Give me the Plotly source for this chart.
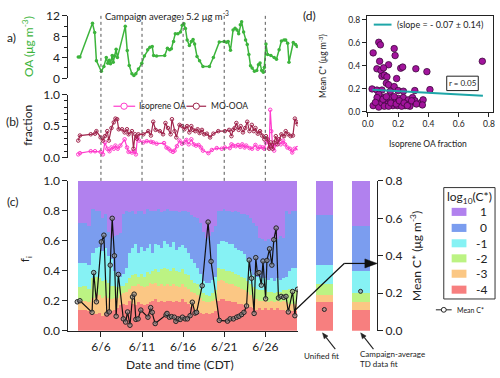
import plotly.graph_objects as go
from datetime import datetime, timedelta

# ---------------- data ----------------
# times are day-of-June (6.0 = 6/6 00:00 CDT)
oa_day = [3.24, 3.44, 4.97, 5.24, 5.45, 6.05, 6.36, 6.65, 6.84, 7.01, 7.16, 7.37, 7.49, 7.64, 7.85, 8.00, 8.96, 9.20,
          9.44, 9.77, 10.01, 10.25, 10.56, 10.97, 11.28, 11.69, 11.96, 12.24, 12.41, 12.77, 13.76, 14.09, 14.36, 14.57,
          14.84, 15.05, 15.36, 15.68, 15.89, 16.10, 16.28, 16.49, 16.76, 17.00, 17.21, 17.40, 17.69, 18.00, 18.41,
          19.20, 19.68, 20.40, 21.00, 21.28, 21.48, 21.76, 22.08, 22.32, 22.56, 22.76, 22.96, 23.12, 23.36, 23.60,
          23.80, 24.00, 24.20, 24.40, 24.68, 24.96, 25.16, 25.36, 25.56, 25.76, 25.88, 26.08, 26.28, 26.68, 27.08,
          27.36, 27.68, 27.96, 28.28, 28.48, 28.72, 28.88, 29.40, 29.68, 29.88]
oa_val = [4.1, 4.1, 10.6, 8.8, 3.4, 1.35, 2.3, 4.0, 2.9, 3.5, 2.8, 4.4, 3.1, 4.3, 5.6, 4.0, 10.0, 5.35, 2.5, 0.9,
          0.55, 0.9, 1.8, 2.9, 4.3, 5.5, 6.0, 6.15, 4.4, 4.3, 4.4, 5.8, 5.5, 5.7, 7.1, 8.6, 8.6, 8.9, 10.2, 10.5,
          9.6, 7.4, 6.3, 7.1, 7.5, 6.6, 4.2, 3.4, 2.3, 2.3, 4.0, 7.0, 7.1, 6.95, 7.1, 5.4, 9.3, 9.65, 9.3, 8.6,
          10.3, 10.9, 8.9, 7.4, 6.5, 4.6, 2.45, 2.0, 1.35, 1.5, 2.6, 2.95, 1.5, 1.2, 2.1, 6.6, 4.6, 4.4, 4.0, 3.7,
          5.5, 7.2, 7.4, 7.4, 6.75, 3.1, 6.9, 6.5, 6.15]

iso_day = [3.24, 3.44, 4.76, 5.28, 5.96, 6.24, 6.48, 6.77, 7.04, 7.28, 7.56, 7.76, 8.04, 8.36, 8.88, 9.17, 9.36, 9.77,
           10.04, 10.25, 10.44, 10.64, 11.16, 11.57, 12.08, 12.36, 12.77, 13.68, 13.97, 14.24, 14.48, 14.76, 14.96,
           15.24, 15.56, 15.86, 16.16, 16.40, 16.68, 17.00, 17.28, 17.57, 17.88, 18.17, 18.41, 19.08, 19.49, 20.09,
           20.69, 21.08, 21.68, 21.88, 22.08, 22.40, 22.68, 22.96, 23.20, 23.48, 23.68, 24.08, 24.40, 24.80, 25.08,
           25.36, 25.68, 25.88, 26.08, 26.28, 26.48, 26.60, 26.72, 26.88, 27.08, 27.28, 27.60, 27.88, 28.16, 28.40,
           28.68, 29.00, 29.28, 29.56, 29.88]
iso_frac = [0.05, 0.07, 0.10, 0.10, 0.09, 0.05, 0.24, 0.14, 0.10, 0.16, 0.14, 0.19, 0.14, 0.19, 0.29, 0.16, 0.09, 0.08,
            0.10, 0.05, 0.32, 0.27, 0.24, 0.26, 0.25, 0.24, 0.22, 0.23, 0.16, 0.14, 0.11, 0.09, 0.11, 0.18, 0.27, 0.22,
            0.24, 0.28, 0.21, 0.29, 0.21, 0.19, 0.20, 0.16, 0.11, 0.07, 0.12, 0.15, 0.14, 0.16, 0.15, 0.21, 0.19, 0.18,
            0.20, 0.17, 0.21, 0.16, 0.19, 0.15, 0.14, 0.20, 0.14, 0.17, 0.16, 0.14, 0.24, 0.27, 0.16, 0.76, 0.42, 0.19,
            0.11, 0.21, 0.29, 0.21, 0.27, 0.21, 0.16, 0.14, 0.08, 0.14, 0.15]

moo_day = [3.24, 3.44, 4.76, 5.28, 5.45, 5.96, 6.24, 6.48, 6.77, 6.96, 7.28, 7.56, 7.76, 7.97, 8.16, 8.57, 8.88, 9.17,
           9.36, 9.77, 9.96, 10.16, 10.37, 10.56, 11.16, 11.76, 12.08, 12.36, 12.65, 13.16, 13.56, 13.85, 14.16, 14.48,
           14.64, 14.96, 15.17, 15.56, 15.88, 16.16, 16.49, 16.76, 17.00, 17.21, 17.48, 17.76, 18.00, 18.29, 18.56,
           18.89, 19.28, 19.68, 20.28, 21.08, 21.60, 21.88, 22.08, 22.28, 22.48, 22.76, 23.00, 23.28, 23.56, 23.80,
           24.08, 24.36, 24.60, 24.80, 25.08, 25.36, 25.60, 25.88, 26.08, 26.28, 26.48, 26.68, 26.88, 27.08, 27.28,
           27.48, 27.68, 27.96, 28.28, 28.48, 28.80, 29.08, 29.36, 29.60, 29.76, 29.96]
moo_frac = [0.27, 0.35, 0.37, 0.38, 0.42, 0.32, 0.27, 0.34, 0.42, 0.27, 0.47, 0.56, 0.62, 0.61, 0.45, 0.45, 0.40, 0.45,
            0.37, 0.42, 0.14, 0.37, 0.30, 0.37, 0.37, 0.42, 0.35, 0.57, 0.44, 0.42, 0.37, 0.55, 0.47, 0.37, 0.61, 0.42,
            0.32, 0.52, 0.50, 0.45, 0.50, 0.40, 0.50, 0.44, 0.42, 0.45, 0.39, 0.44, 0.37, 0.38, 0.32, 0.38, 0.42, 0.42,
            0.44, 0.34, 0.44, 0.47, 0.55, 0.44, 0.50, 0.40, 0.47, 0.57, 0.42, 0.52, 0.42, 0.47, 0.38, 0.42, 0.35, 0.29,
            0.34, 0.29, 0.14, 0.24, 0.14, 0.24, 0.34, 0.21, 0.29, 0.37, 0.34, 0.42, 0.37, 0.34, 0.35, 0.62, 0.57, 0.53]

cstar_day = [3.12, 3.44, 4.92, 5.12, 5.45, 6.05, 6.36, 6.72, 7.01, 7.13, 7.37, 7.64, 7.85, 8.12, 8.72, 9.00, 9.24,
             9.53, 9.84, 10.04, 10.25, 10.52, 10.85, 11.72, 12.05, 12.24, 12.60, 13.92, 14.04, 14.33, 14.60, 14.93,
             15.12, 15.41, 15.65, 15.92, 16.25, 16.52, 16.85, 17.12, 17.45, 17.64, 18.32, 19.04, 19.40, 20.40, 21.40,
             21.72, 22.12, 22.52, 22.80, 23.12, 23.40, 23.72, 24.04, 24.32, 24.64, 24.84, 25.04, 25.24, 25.52, 25.72,
             26.04, 26.20, 26.52, 26.80, 27.04, 27.32, 27.60, 27.92, 28.24, 28.52, 28.80, 29.32, 29.60, 29.92]
cstar_val = [0.154, 0.16, 0.098, 0.31, 0.154, 0.474, 0.51, 0.089, 0.10, 0.35, 0.60, 0.40, 0.077, 0.30, 0.063, 0.046,
             0.10, 0.029, 0.18, 0.195, 0.06, 0.063, 0.11, 0.072, 0.123, 0.098, 0.038, 0.084, 0.092, 0.072, 0.075,
             0.072, 0.05, 0.063, 0.06, 0.072, 0.063, 0.063, 0.08, 0.152, 0.094, 0.098, 0.24, 0.58, 0.37, 0.055, 0.051,
             0.063, 0.063, 0.072, 0.077, 0.086, 0.098, 0.132, 0.377, 0.28, 0.092, 0.39, 0.306, 0.31, 0.243, 0.372,
             0.17, 0.375, 0.437, 0.35, 0.486, 0.548, 0.175, 0.183, 0.178, 0.183, 0.10, 0.209, 0.08, 0.221]

# volatility-bin fractions (stacked bars), one bar per averaging period starting at bar_start
bar_start = [3.20, 3.80, 4.40, 4.88, 5.36, 5.72, 6.08, 6.44, 6.80, 7.16, 7.52, 7.88, 8.24, 8.60, 8.96, 9.32, 9.68,
             10.04, 10.40, 10.76, 11.12, 11.48, 11.84, 12.20, 12.56, 12.92, 13.28, 13.64, 14.00, 14.36, 14.72, 15.08,
             15.44, 15.80, 16.16, 16.52, 16.88, 17.24, 17.60, 17.96, 18.32, 18.68, 19.04, 19.40, 19.76, 20.12, 20.48,
             20.84, 21.20, 21.56, 21.92, 22.28, 22.64, 23.00, 23.36, 23.72, 24.08, 24.44, 24.80, 25.16, 25.52, 25.88,
             26.24, 26.60, 26.96, 27.32, 27.68, 28.04, 28.40, 28.76, 29.12, 29.48]
bar_end = 29.96
f_m4 = [.14, .14, .13, .11, .11, .12, .10, .12, .14, .13, .14, .15, .17, .18, .17, .20, .18, .17, .19, .18,
        .17, .18, .19, .20, .21, .19, .20, .19, .20, .20, .19, .20, .19, .21, .19, .18, .16, .14, .13, .12,
        .11, .12, .11, .12, .13, .20, .21, .21, .20, .20, .19, .19, .18, .18, .17, .16, .16, .15, .14, .15,
        .14, .15, .14, .15, .14, .15, .14, .14, .13, .13, .13, .13]
f_m3 = [.06, .06, .06, .11, .14, .12, .12, .11, .08, .08, .08, .07, .07, .07, .09, .08, .12, .13, .12, .12,
        .12, .12, .13, .11, .11, .11, .11, .11, .11, .10, .12, .10, .10, .10, .10, .10, .10, .11, .11, .10,
        .09, .07, .08, .08, .08, .13, .13, .12, .12, .11, .12, .11, .11, .10, .10, .10, .08, .07, .07, .05,
        .06, .06, .05, .05, .05, .05, .05, .06, .06, .05, .05, .05]
f_m2 = [.09, .10, .09, .13, .11, .11, .11, .11, .10, .09, .08, .07, .06, .05, .06, .07, .07, .08, .05, .08,
        .07, .09, .06, .09, .09, .09, .10, .12, .10, .10, .11, .10, .10, .10, .09, .09, .08, .07, .07, .06,
        .05, .05, .04, .05, .06, .09, .07, .08, .08, .09, .08, .08, .08, .08, .08, .07, .07, .07, .07, .07,
        .07, .06, .07, .06, .06, .06, .07, .07, .08, .10, .10, .09]
f_m1 = [.16, .15, .16, .17, .19, .21, .20, .21, .18, .18, .10, .08, .06, .08, .10, .17, .18, .20, .16, .18,
        .17, .16, .20, .12, .17, .18, .14, .18, .17, .16, .17, .14, .17, .16, .17, .15, .14, .13, .11, .10,
        .08, .08, .09, .09, .09, .16, .19, .19, .19, .18, .19, .17, .17, .17, .16, .15, .09, .08, .08, .09,
        .08, .08, .08, .09, .08, .09, .08, .08, .09, .12, .14, .15]
f_0 = [.27, .27, .26, .29, .25, .24, .22, .23, .16, .14, .23, .27, .29, .40, .38, .27, .25, .20, .28, .24,
       .25, .26, .22, .28, .22, .24, .24, .20, .23, .24, .21, .26, .23, .23, .25, .27, .29, .31, .33, .34,
       .33, .30, .31, .32, .34, .22, .20, .21, .21, .22, .21, .25, .25, .25, .27, .29, .35, .35, .34, .26,
       .26, .25, .27, .25, .29, .26, .29, .27, .44, .38, .38, .38]
f_p1 = [.28, .28, .30, .19, .20, .20, .25, .22, .34, .38, .37, .36, .35, .22, .20, .21, .20, .22, .20, .20,
        .22, .19, .20, .20, .20, .19, .21, .20, .19, .20, .20, .20, .21, .20, .20, .21, .23, .24, .25, .28,
        .34, .38, .37, .34, .30, .20, .20, .19, .20, .20, .21, .20, .21, .22, .22, .23, .25, .28, .30, .38,
        .39, .40, .39, .40, .38, .39, .37, .38, .20, .22, .20, .20]

bin_labels = ["-4", "-3", "-2", "-1", "0", "1"]
bin_colors = ["#f77f7f", "#fbc784", "#bcf383", "#86f2f4", "#7b9def", "#b181ee"]

side_labels = ["Unified fit", "Campaign-average<br>TD data fit"]
side_m4 = [0.19, 0.14]
side_m3 = [0.05, 0.05]
side_m2 = [0.07, 0.06]
side_m1 = [0.13, 0.15]
side_0 = [0.33, 0.30]
side_p1 = [0.23, 0.30]
side_cstar = [0.113, 0.21]

sc_iso = [0.072, 0.083, 0.035, 0.174, 0.18, 0.078, 0.137, 0.217, 0.23, 0.317, 0.39, 0.06, 0.087, 0.104, 0.093,
          0.109, 0.126, 0.19, 0.122, 0.137, 0.174, 0.028, 0.06, 0.093, 0.148, 0.20, 0.235, 0.31, 0.41, 0.756,
          0.035, 0.072, 0.083, 0.104, 0.115, 0.13, 0.148, 0.158, 0.165, 0.18, 0.191, 0.202, 0.213, 0.223, 0.234,
          0.246, 0.256, 0.267, 0.278, 0.295, 0.311, 0.354, 0.365, 0.072, 0.061, 0.093, 0.109, 0.137, 0.174, 0.195,
          0.223, 0.278, 0.36, 0.05, 0.10, 0.122, 0.152, 0.187, 0.208, 0.239, 0.261, 0.289, 0.321]
sc_cstar = [0.605, 0.583, 0.513, 0.55, 0.49, 0.44, 0.41, 0.38, 0.39, 0.375, 0.35, 0.375, 0.36, 0.383, 0.31, 0.32,
            0.305, 0.29, 0.25, 0.236, 0.22, 0.20, 0.19, 0.19, 0.18, 0.186, 0.18, 0.186, 0.194, 0.44, 0.055, 0.042,
            0.111, 0.125, 0.088, 0.069, 0.105, 0.125, 0.055, 0.083, 0.097, 0.117, 0.069, 0.088, 0.125, 0.055, 0.083,
            0.105, 0.069, 0.125, 0.097, 0.083, 0.105, 0.153, 0.125, 0.078, 0.05, 0.05, 0.133, 0.055, 0.05, 0.05,
            0.061, 0.083, 0.11, 0.133, 0.078, 0.069, 0.097, 0.078, 0.055, 0.097, 0.069]
fit_slope = -0.07
fit_intercept = 0.195
fit_x = [0.03, 0.76]

date_ticks = [6, 11, 16, 21, 26]
date_ticktext = ["6/6", "6/11", "6/16", "6/21", "6/26"]

# ---------------- helpers ----------------
W, H = 500, 378
FONT = "Lato"


def px(x):
    return x / W


def py(y):
    return 1 - y / H


base = datetime(2013, 6, 1)


def dt(d):
    return base + timedelta(days=d - 1)


x_range = [dt(2.04), dt(29.96)]
GREEN = "#3cb43c"
PINK = "#ff3ccc"
MAROON = "#a0244c"

fig = go.Figure()

# panel a
fig.add_trace(go.Scatter(x=[dt(d) for d in oa_day], y=oa_val, mode="lines+markers",
                         line=dict(color=GREEN, width=1.5), marker=dict(size=3.5, color=GREEN),
                         xaxis="x", yaxis="y", showlegend=False))
# panel b
fig.add_trace(go.Scatter(x=[dt(d) for d in iso_day], y=iso_frac, mode="lines+markers",
                         line=dict(color=PINK, width=1.2), marker=dict(size=3.5, color=PINK, symbol="circle-open"),
                         xaxis="x2", yaxis="y2", showlegend=False))
fig.add_trace(go.Scatter(x=[dt(d) for d in moo_day], y=moo_frac, mode="lines+markers",
                         line=dict(color=MAROON, width=1.2), marker=dict(size=3.5, color=MAROON, symbol="circle-open"),
                         xaxis="x2", yaxis="y2", showlegend=False))

# panel c stacked bars
widths = []
centers = []
for i, s in enumerate(bar_start):
    e = bar_start[i + 1] if i + 1 < len(bar_start) else bar_end
    widths.append((e - s) * 86400000)
    centers.append(dt(s + (e - s) / 2))
for vals, col in zip([f_m4, f_m3, f_m2, f_m1, f_0, f_p1], bin_colors):
    fig.add_trace(go.Bar(x=centers, y=vals, width=widths, marker=dict(color=col, line=dict(width=0)),
                         textposition="none", hoverinfo="skip",
                         xaxis="x3", yaxis="y3", showlegend=False))
fig.add_trace(go.Scatter(x=[dt(d) for d in cstar_day], y=cstar_val, mode="lines+markers",
                         line=dict(color="#111111", width=1.2),
                         marker=dict(size=4.5, color="rgba(150,150,150,0.6)", line=dict(color="#222222", width=1)),
                         xaxis="x3", yaxis="y4", showlegend=False))

# side bars
for vals, col in zip([side_m4, side_m3, side_m2, side_m1, side_0, side_p1], bin_colors):
    fig.add_trace(go.Bar(x=[0, 1], y=vals, width=0.486, marker=dict(color=col, line=dict(width=0)),
                         textposition="none", hoverinfo="skip",
                         xaxis="x4", yaxis="y5", showlegend=False))
fig.add_trace(go.Scatter(x=[0, 1], y=side_cstar, mode="markers",
                         marker=dict(size=4, color="rgba(150,150,150,0.6)", line=dict(color="#222222", width=1)),
                         xaxis="x4", yaxis="y6", showlegend=False))

# panel d
fig.add_trace(go.Scatter(x=sc_iso, y=sc_cstar, mode="markers",
                         marker=dict(size=6.5, color="#a2149c", line=dict(color="#3e0a3c", width=0.8)),
                         xaxis="x5", yaxis="y7", showlegend=False))
fig.add_trace(go.Scatter(x=fit_x, y=[fit_intercept + fit_slope * v for v in fit_x], mode="lines",
                         line=dict(color="#1ea6a8", width=2), xaxis="x5", yaxis="y7", showlegend=False))

tickfont = dict(family=FONT, size=12, color="#222")
common_y = dict(showline=True, linecolor="#222", linewidth=1, ticks="outside", ticklen=5, tickcolor="#222",
                tickfont=tickfont, showgrid=False, zeroline=False)
small_font = dict(family=FONT, size=8.5, color="#222")

fig.update_layout(
    width=W, height=H, margin=dict(l=0, r=0, t=0, b=0),
    paper_bgcolor="white", plot_bgcolor="white", barmode="stack", bargap=0,
    font=dict(family=FONT, color="#222", size=12),
    xaxis=dict(domain=[px(64.3), px(297)], range=x_range, type="date", visible=False, anchor="y"),
    yaxis=dict(domain=[py(73.3), py(8.3)], range=[0, 12], tickmode="array", tickvals=[0, 4, 8, 12],
               ticktext=["0", "4", "8", "12"], anchor="x",
               minor=dict(dtick=2, ticklen=3, ticks="outside", tickcolor="#222"), **common_y),
    xaxis2=dict(domain=[px(64.3), px(297)], range=x_range, type="date", visible=False, anchor="y2"),
    yaxis2=dict(domain=[py(155.7), py(90.3)], range=[0, 1], tickmode="array", tickvals=[0, 0.5, 1],
                ticktext=["0.0", "0.5", "1.0"], anchor="x2",
                minor=dict(dtick=0.1, ticklen=3, ticks="outside", tickcolor="#222"), **common_y),
    xaxis3=dict(domain=[px(64.3), px(297)], range=x_range, type="date", anchor="y3", tickmode="array",
                tickvals=[dt(d) for d in date_ticks], ticktext=date_ticktext,
                showline=True, linecolor="#222", ticks="outside", ticklen=5, tickcolor="#222",
                tickfont=tickfont, showgrid=False, zeroline=False),
    yaxis3=dict(domain=[py(336), py(180)], range=[0, 1], dtick=0.2, tickformat=".1f", anchor="x3", **common_y),
    yaxis4=dict(domain=[py(336), py(180)], range=[0, 0.8], overlaying="y3", anchor="x3", visible=False),
    xaxis4=dict(domain=[px(300), px(377.5)], range=[-0.649, 1.459], visible=False, anchor="y5"),
    yaxis5=dict(domain=[py(336), py(180)], range=[0, 1], visible=False, anchor="x4"),
    yaxis6=dict(domain=[py(336), py(180)], range=[0, 0.8], dtick=0.2, tickformat=".1f", overlaying="y5",
                anchor="x4", side="right", **common_y),
    xaxis5=dict(domain=[px(367), px(495)], range=[-0.0065, 0.827], anchor="y7", dtick=0.2, tickformat=".1f",
                showline=True, mirror=True, linecolor="#222", ticks="outside", ticklen=4, tickcolor="#222",
                tickfont=small_font, showgrid=False, zeroline=False),
    yaxis7=dict(domain=[py(108.5), py(8)], range=[-0.002, 0.836], anchor="x5", dtick=0.2, tickformat=".1f",
                showline=True, mirror=True, linecolor="#222", ticks="outside", ticklen=4, tickcolor="#222",
                tickfont=small_font, showgrid=False, zeroline=False),
)

shapes = []
for d in date_ticks:
    shapes.append(dict(type="line", xref="x3", yref="paper", x0=dt(d), x1=dt(d), y0=py(180), y1=py(5),
                       line=dict(color="#555", width=1, dash="dot")))


def pline(x0, y0, x1, y1, color="#111", width=1.2):
    shapes.append(dict(type="line", xref="paper", yref="paper", x0=px(x0), y0=py(y0), x1=px(x1), y1=py(y1),
                       line=dict(color=color, width=width)))


def ptri(pts, color="#111"):
    path = "M " + " L ".join(f"{px(a):.5f},{py(b):.5f}" for a, b in pts) + " Z"
    shapes.append(dict(type="path", xref="paper", yref="paper", path=path, fillcolor=color,
                       line=dict(color=color, width=0.5)))


# connector from time series to right axis with arrowhead
pline(295, 314, 344, 266)
pline(344, 266, 367, 266)
ptri([(377.5, 266), (365, 261.3), (365, 270.7)])
# arrows pointing at the side bars
for hx, hy in [(322, 338.3), (360.7, 338.3)]:
    ux, uy = 0.607, 0.794
    bx, by = hx + 6 * ux, hy + 6 * uy
    pline(bx, by, hx + 13, hy + 17, color="#222", width=1.1)
    ptri([(hx, hy), (bx - 2.4 * uy, by + 2.4 * ux), (bx + 2.4 * uy, by - 2.4 * ux)], color="#222")

# log10 legend box
shapes.append(dict(type="rect", xref="paper", yref="paper", x0=px(445), x1=px(497), y0=py(303), y1=py(187),
                   line=dict(color="#333", width=1), fillcolor="white"))
leg_y = [212.3, 229, 245, 260.7, 276.7, 293.3]
annotations = []
for lab, col, yy in zip(reversed(bin_labels), reversed(bin_colors), leg_y):
    shapes.append(dict(type="rect", xref="paper", yref="paper", x0=px(453), x1=px(468), y0=py(yy + 4.2),
                       y1=py(yy - 4.2), line=dict(width=0), fillcolor=col))
    annotations.append(dict(x=px(491), y=py(yy), xref="paper", yref="paper", text=lab, showarrow=False,
                            xanchor="right", yanchor="middle", font=dict(family=FONT, size=12, color="#222")))
# r box
shapes.append(dict(type="rect", xref="paper", yref="paper", x0=px(448), x1=px(480), y0=py(86), y1=py(71),
                   line=dict(color="#222", width=1), fillcolor="white"))
# legend samples
pline(110, 102.3, 132, 102.3, color=PINK, width=1.2)
pline(184, 102.3, 204, 102.3, color=MAROON, width=1.2)
shapes.append(dict(type="circle", xref="paper", yref="paper", x0=px(117.5), x1=px(124), y0=py(105.5),
                   y1=py(99), line=dict(color=PINK, width=1), fillcolor="white"))
shapes.append(dict(type="circle", xref="paper", yref="paper", x0=px(190.8), x1=px(197.2), y0=py(105.5),
                   y1=py(99), line=dict(color=MAROON, width=1), fillcolor="white"))
pline(374, 17.3, 392, 17.3, color="#1ea6a8", width=2)
pline(437, 314.3, 453, 314.3, color="#222", width=1)
shapes.append(dict(type="circle", xref="paper", yref="paper", x0=px(442.5), x1=px(447.5), y0=py(316.8),
                   y1=py(311.8), line=dict(color="#222", width=1), fillcolor="white"))


def txt(x, y, t, size=12, xanchor="center", yanchor="middle", angle=0, color="#222", align="center"):
    annotations.append(dict(x=px(x), y=py(y), xref="paper", yref="paper", text=t, showarrow=False,
                            xanchor=xanchor, yanchor=yanchor, textangle=angle, align=align,
                            font=dict(family=FONT, size=size, color=color)))


txt(0, 31, "a)", 12, xanchor="left")
txt(-1, 118, "(b)", 12, xanchor="left")
txt(0, 202, "(c)", 12, xanchor="left")
txt(300, 8, "(d)", 12, xanchor="left")
txt(24, 40, "OA (μg m<sup>-3</sup>)", 12, angle=-90, color=GREEN)
txt(22, 122, "fraction", 12, angle=-90)
txt(21, 262, "f<sub>i</sub>", 12, angle=-90)
txt(417, 258, "Mean C* (μg m<sup>-3</sup>)", 12, angle=-90)
txt(177, 371, "Date and time (CDT)", 12)
txt(99, 8, "Campaign average: 5.2 μg m<sup>-3</sup>", 9.5, xanchor="left")
txt(134, 102.3, "Isoprene OA", 8.5, xanchor="left")
txt(206.5, 102.3, "MO-OOA", 8.5, xanchor="left")
txt(396, 17.3, "(slope = - 0.07 ± 0.14)", 9, xanchor="left")
txt(464, 78.5, "r = 0.05", 8)
txt(429, 142, "Isoprene OA fraction", 8.5)
txt(322, 60, "Mean C* (μg m<sup>-3</sup>)", 8.5, angle=-90)
txt(471, 197, "log<sub>10</sub>(C*)", 12)
txt(456.5, 314.3, "Mean C*", 7, xanchor="left")
txt(321, 362.5, side_labels[0], 8)
txt(358, 366, side_labels[1], 8, xanchor="left", align="left")

fig.update_layout(shapes=shapes, annotations=annotations)
fig.write_html("out.html")
